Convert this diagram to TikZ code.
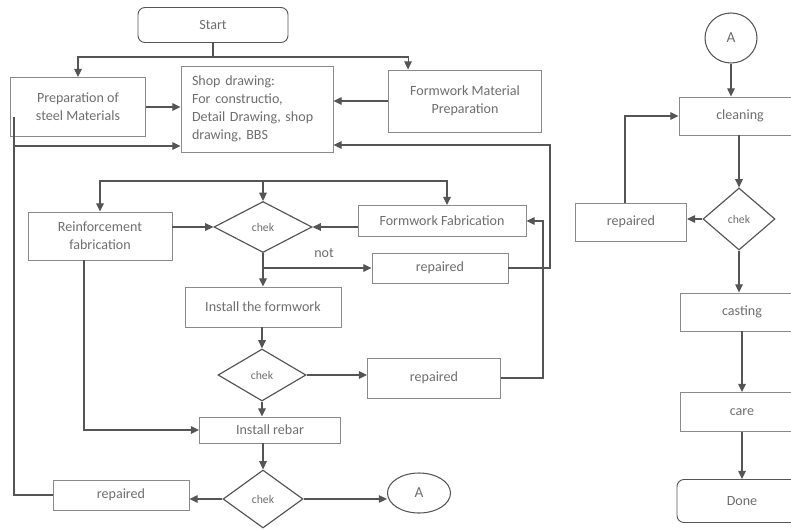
\documentclass[tikz,border=0pt]{standalone}
\usepackage{fontspec}
\setmainfont{Carlito}
\usetikzlibrary{shapes.geometric,arrows.meta,calc}
\definecolor{boxline}{HTML}{8A8A8A}
\definecolor{arrline}{HTML}{555555}
\definecolor{txt}{HTML}{6E6E6E}
\tikzset{
	dims/.style 2 args={minimum width=#1*0.03cm, minimum height=#2*0.03cm},
	stepbox/.style={draw=boxline, line width=0.8pt, rectangle, text=txt, align=center, inner sep=2pt, font=\fontsize{12}{15.4}\selectfont},
	termbox/.style={stepbox, rounded corners=6pt, draw=arrline},
	checkbox/.style={draw=arrline, line width=1pt, diamond, text=txt, inner sep=0pt, font=\fontsize{10}{11}\selectfont},
	linkbox/.style={draw=arrline, line width=0.9pt, ellipse, text=txt, inner sep=0pt, font=\fontsize{13}{15}\selectfont},
	arr/.style={draw=arrline, line width=0.9pt, -{Triangle[length=7pt,width=6.5pt]}},
	ln/.style={draw=arrline, line width=0.9pt}
}
\begin{document}
\begin{tikzpicture}[x=0.03cm, y=-0.03cm]
		\useasboundingbox (0,0) rectangle (791,529);
		% left part
		\node[termbox, dims={150}{35}] (start) at (213,25) {Start};
		\node[stepbox, dims={135}{59}] (prep) at (78,107) {Preparation of\\steel Materials};
		\node[stepbox, align=left, text width=3.9cm, inner xsep=0.33cm, dims={152}{86}] (shop) at (257,109) {Shop drawing:\\For constructio,\\Detail Drawing, shop\\drawing, BBS};
		\node[stepbox, dims={153}{62}] (fmp) at (465,101) {Formwork Material\\Preparation};
		\node[stepbox, dims={144}{48}] (reinf) at (100,236) {Reinforcement\\fabrication};
		\node[checkbox, dims={98}{51}] (chek1) at (263,227) {chek};
		\node[stepbox, dims={168}{31}] (ff) at (442,221) {Formwork Fabrication};
		\node[stepbox, dims={136}{30}] (rep1) at (440,268) {repaired};
		\node[text=txt, font=\fontsize{12}{14}\selectfont] (notlbl) at (324,253) {not};
		\node[stepbox, dims={156}{40}] (instf) at (263,307) {Install the formwork};
		\node[checkbox, dims={88}{52}] (chek2) at (262,375) {chek};
		\node[stepbox, dims={133}{40}] (rep2) at (434,378) {repaired};
		\node[stepbox, dims={141}{26}] (rebar) at (270,430) {Install rebar};
		\node[checkbox, dims={80}{58}] (chek3) at (263,499) {chek};
		\node[stepbox, dims={136}{30}] (rep3) at (121,495) {repaired};
		\node[linkbox, dims={63}{40}] (linkA) at (419,493) {A};
		% right part
		\node[linkbox, dims={52}{50}] (linkB) at (731,38) {A};
		\node[stepbox, dims={122}{38}] (clean) at (740,116) {cleaning};
		\node[checkbox, dims={72}{62}] (chek4) at (739,219) {chek};
		\node[stepbox, dims={111}{38}] (rep4) at (631,222) {repaired};
		\node[stepbox, dims={124}{38}] (cast) at (742,312) {casting};
		\node[stepbox, dims={124}{39}] (care) at (742,412) {care};
		\node[termbox, dims={130}{43}] (done) at (742,501) {Done};
		% connectors, left part
		\coordinate (split0) at (213,57);
		\draw[ln] (start.south) -- (split0);
		\draw[arr] (split0) -| (prep.north);
		\draw[arr] (split0) -| ($(fmp.north west)+(20,0)$);
		\draw[arr] (prep.east) -- (prep.east -| shop.west);
		\draw[arr] (fmp.west) -- (fmp.west -| shop.east);
		\coordinate (backL) at (14,146);
		\draw[arr] (rep3.west) -| (backL) -- (backL -| shop.west);
		\draw[ln] (backL) -- (14,117);
		\coordinate (backR) at (550,145);
		\draw[arr] (rep1.east) -| (backR) -- (backR -| shop.east);
		\coordinate (split1) at (263,181);
		\draw[arr] (split1) -| (reinf.north);
		\draw[arr] (split1) -- (chek1.north);
		\draw[arr] (split1) -| ($(ff.north)+(5,0)$);
		\draw[arr] (reinf.east |- chek1.west) -- (chek1.west);
		\draw[arr] (ff.west |- chek1.east) -- (chek1.east);
		\draw[arr] (chek1.south) -- (instf.north);
		\draw[arr] (chek1.south |- rep1.west) -- (rep1.west);
		\draw[arr] (instf.south -| chek2.north) -- (chek2.north);
		\draw[arr] (chek2.east) -- (chek2.east -| rep2.west);
		\coordinate (backF) at (543,221);
		\draw[arr] (rep2.east) -| (backF) -- (ff.east);
		\draw[arr] (chek2.south) -- (chek2.south |- rebar.north);
		\draw[arr] ($(reinf.south)+(-16,0)$) |- (rebar.west);
		\draw[arr] (rebar.south -| chek3.north) -- (chek3.north);
		\draw[arr] (chek3.west) -- (chek3.west -| rep3.east);
		\draw[arr] (chek3.east) -- (chek3.east -| linkA.west);
		% connectors, right part
		\draw[arr] (linkB.south) -- (linkB.south |- clean.north);
		\draw[arr] (clean.south -| chek4.north) -- (chek4.north);
		\draw[arr] (chek4.west) -- (chek4.west -| rep4.east);
		\draw[arr] ($(rep4.north)+(-6,0)$) |- (clean.west);
		\draw[arr] (chek4.south) -- (chek4.south |- cast.north);
		\draw[arr] (cast.south) -- (care.north);
		\draw[arr] (care.south) -- (done.north);
	\end{tikzpicture}
\end{document}
